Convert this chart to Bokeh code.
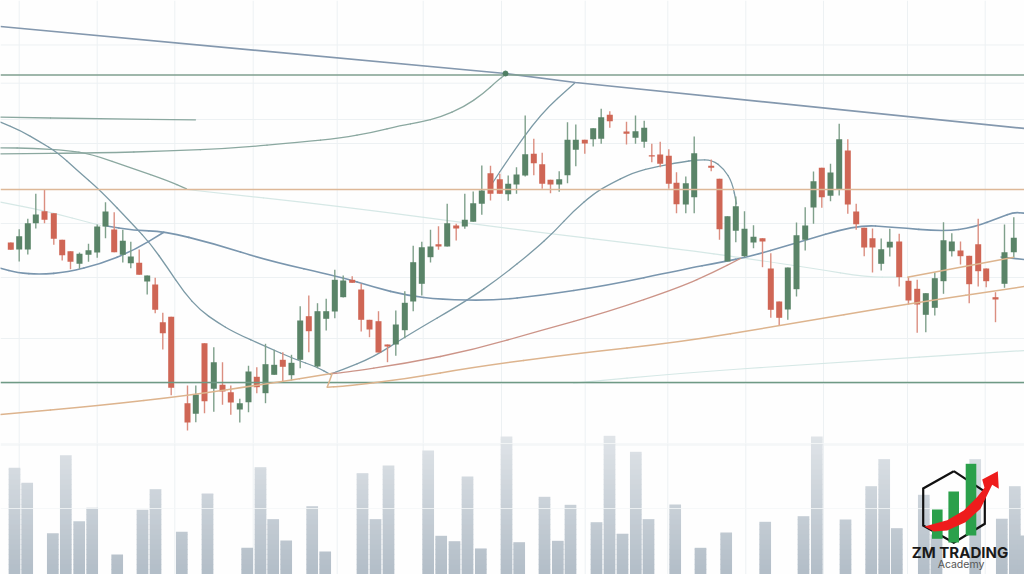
from bokeh.plotting import figure
from bokeh.models import Range1d
from bokeh.core.properties import value
from bokeh.embed import file_html
from bokeh.resources import INLINE

# Candles: session position and prices
session = [10.3,18.7,27.3,35.3,44,53.3,61.7,70,79,88,96.7,105,113.7,122.3,130.3,138.7,146.7,154.7,162.3,170.7,
           187,195.3,204,213.3,222,230.3,239.3,248,256.3,265,273.7,282.3,291,299.7,308.3,317,325.7,334.3,342.7,351.7,
           360.7,369,378,387,395.3,404.3,412.7,421.3,430,438,446.7,455.7,464.3,472.7,481.3,490,499.3,507.7,516,524.7,
           533.3,541.7,550,558.7,567,575.3,584.3,592.7,600.7,609.3,626,635,643.7,651.3,659.7,668.3,676,685.3,693.7,
           710.7,719,727,735.3,744,753,762,770.3,778.7,787.3,796,804.7,813,821.3,830,838.7,847.3,855.7,863.7,872,880.7,
           889.3,898.7,908,916.7,925.3,934.3,943,951.3,960,968.7,977.7,985.7,995,1004,1013.3]
opens = [332,325,325,351.3,363.3,361.3,334.7,323.3,310.7,319.7,322,348,345,319.7,311.3,311.7,293,290,252.3,257.7,
         171.3,160.7,231.3,185.7,189.7,182.3,165,172.3,197.7,181.3,199.7,214.7,199.3,214.7,258.3,208,255.7,263,277.3,294.7,
         285,254.7,253.3,230,230,244.3,273,290.7,317.3,330.3,328,349,348,352.7,370.7,401.3,395.3,380.3,390,399,
         420.7,410.3,394.7,390,399.3,424.7,434.7,435.3,435.7,459.7,443,436.7,432.7,419.3,420,418.7,391.7,370,377.3,
         408.7,395.7,313,343.7,318.3,332,336.3,306,273,265,285.3,334.7,367,406.7,378.7,385.3,424,363,346.7,336.3,310.7,
         327,333,293.7,285.7,259.7,266.7,293.3,323.3,324,318.7,330.3,306,277.3,290.7,322.3]
closes = [324.7,338.3,351.3,360,354.7,335.7,319.3,312.7,320.7,324.3,348,363,322.3,333.7,318,299.7,299,264.7,241.3,186.7,
          152,180,173.3,212.3,183,172,171.3,203,187.3,210.3,209.7,207.7,211.7,254,243.3,263.3,263.3,294.7,294,291.7,
          254.7,245,222,228,250,271.7,312.3,327.3,328,328,351.3,346,354.7,371.3,384,380.7,380.7,390.7,400,420.3,
          411.3,390.7,390,395.3,434.7,434.7,431,446.3,457.3,453.3,440.7,443.3,446.7,418,410.7,390.7,370.3,391.3,421.3,
          406.7,345.3,358.3,368.3,345.7,337.7,333,264.7,256.7,307,339.3,349,393.3,377.3,402,435.3,370,350.3,327,327,325.3,
          332.7,297.3,274,270,281.3,296.3,334.3,333,318.3,290.3,303.3,293.3,275,322.3,336.7]
highs = [332,345.3,355.7,380.7,384.7,361.3,334.7,323.3,322,330.7,350,372.3,362.3,344.7,332.7,325,299,296.7,261.7,257.7,
         189,189,231.3,227.3,212.3,189,175.7,208.7,207.3,230.7,224.7,222.3,219.7,268.3,279,271.3,275.7,304.7,299,298.3,
         290.7,254.7,263.3,230,264,283.3,328.7,332.7,344.7,348.3,370.7,350.7,380.7,383,409,408.7,400.7,399,407.3,459,
         435.7,421.7,394.7,403.3,452.3,450,434.7,446.3,465.7,463.3,452.7,459,453.7,430.7,432.7,425.3,402.3,398,438,
         415,395.7,358.3,378,363.3,349.3,336.3,321.3,273,307,352,367.3,403,406.7,410.7,450.7,435.3,370.7,346.7,346,336,
         345.7,340.7,297.3,294.7,281.3,302.3,352.3,341.3,333,318.7,355.7,306,282.3,350,357.3]
lows = [324.7,313,320,346,351.3,329.7,314,305.3,305.7,312.7,316.7,336.3,322.3,312,306.3,299.7,280,261.3,225,179.3,
        144,152.3,161.3,162.7,169.7,159.7,152,162.3,181.3,171.3,199.7,192.3,194,206.3,222.3,206.3,244,256.3,277,291.7,
        243,237.3,222,212.3,218.7,236.3,263.3,279,312,324.7,328,334,345.7,352.7,359.7,374,380.7,373.7,380.7,398,
        399.3,385.7,381.3,382.7,391.3,408.3,420.7,428,430.7,446.7,430,430.7,426.7,412.3,407.3,385.7,361.3,361.3,361.3,
        403.3,334.7,313,332.3,317.3,326.3,307.3,256.7,248.7,254.7,278,324,350.7,366.7,373.3,379,360.7,344.7,318.3,302,304,
        318,288,270,241.7,242.3,259,280.7,318,310,271.3,288,287.3,252.3,286.7,316.7]

# Volume bars
vol_session = [14,26.7,52.3,65.3,78.7,91.7,116.7,142,155,181.3,207,246.7,260,272.7,285.7,311.7,324.7,362,375,388,
               427.7,440.7,454,467,480.3,506,518.7,544,557.3,570,596,609,622,635.3,648,674.7,700,725.7,764.7,803,816.3,
               845,870.7,883.7,896.3,923.3,936,974.7,1001.3,1014.3,1023]
volumes = [106.7,91.7,41.3,119.3,53.3,66.7,20,64.7,85.3,42.7,81,26.7,107.3,55.3,34,68.3,23,101.3,55.3,109,
           124,38.7,33.3,98,26,138,32.3,77.7,33.7,69.7,52.3,138.7,40.7,122.7,55.3,70,26.7,42,52.7,58.3,138,
           55,88.3,115.3,46.3,79.7,40,115.3,55.7,88.3,39]

# Levels and curves (x position, price)
trend_x = [0,505,575,1024];  trend_y = [548,501,492,446]
upper_level = [499.5];  mid_level = [385];  lower_level = [192]
curve_a_x = [0,100,166.7,233,300,340,373,400,420,440,463,483,497,505]
curve_a_y = [420.7,421.7,423.3,426.3,432.3,436.3,442.3,449,452.3,457.3,467.3,481,494,500]
curve_b_x = [0,100,195];  curve_b_y = [457.3,455.7,454.7]
curve_c_x = [0,33.3,66.7,90,133.3,166.7,186];  curve_c_y = [426.7,426.3,424,420.7,405.7,394,385.7]
curve_d_x = [0,20,40,56.7,76.7,100,133.3,150,166.7,183.3,200,216.7,233.3,266.7,293.3,316.7,330]
curve_d_y = [452.3,444,432.3,422.3,404,384,349,330.7,307.3,282.3,264,252.3,242.3,227.3,215.7,207.3,200]
curve_e_x = [331,340,373,406.7,466.7,500,533.3,553.3,573.3,593.3,606.7,633.3,656.7,680,696.7,711.7,723.3,731.7,736]
curve_e_y = [201,204,217.3,239,274,297.3,324,342.3,364,380.7,389,402.3,408,412.3,414.7,414.7,405.7,392.3,370.7]
curve_f_x = [0,16.7,40,66.7,100,133.3,163.3];  curve_f_y = [306.3,301.7,300,302.3,310.7,324,342.3]
curve_g_x = [103.3,133.3,163.3,213.3,266.7,340,373.3,406.7,440,493.3,540,606.7,680,723.3,746.7,793.3,856.7,893.3,943.3,973.3,1000,1013.3,1024]
curve_g_y = [349,344,343.3,331,314,297.5,287.3,279,275,274,279,289,304.5,313,317.3,330.7,349.7,347.3,343,347,357.3,362.3,361.3]
curve_h_x = [491.7,506.7,540,574];  curve_h_y = [391,414,460.7,491.3]
curve_i_x = [1000,1024];  curve_i_y = [317.5,315]
tan_a_x = [0,100,186.7,266.7,331];  tan_a_y = [160,169,179,190.7,201]
hook_x = [331.7,326.7];  hook_y = [201,187.3]
tan_b_x = [326.7,340,406.7,473,573,680,780,906.7,1024];  tan_b_y = [187.3,188,195.7,207.3,220.7,232.3,249,270.7,288]
tan_c_x = [906.7,1013.3];  tan_c_y = [297.3,317.3]
red_x = [331,340,406.7,473,540,606.7,680,713,740];  red_y = [201,201.5,211.3,224.7,244,262.3,287.3,302.3,316]
pale_a_x = [186,340,506.7,680,746.7,813.3,866.7,896.7];  pale_a_y = [385,368.3,346,325.3,316,306,297.3,297.3]
pale_b_x = [0,43.3,100];  pale_b_y = [372.3,364,349]
pale_c_x = [573,680,813.3,1024];  pale_c_y = [191.3,201.3,210.7,224]
pivot_x = [505];  pivot_y = [501]

grid_x = [18.7,96.7,174.3,252.7,336.7,422.7,501,584.7,667.3,745.3,823,907,984.7]
grid_y = [129.5,191,236,297,351,431,455,491.3,529.5]

# Academy logo
brand = "ZM TRADING"
brand_sub = "Academy"
hex_x = [953.3,984.3,984.3,953.3,922.7,922.7,953.3]
hex_y = [103.3,83,50.7,31.7,49,86,103.3]
logo_bar_x = [936.8,953.2,970.5];  logo_bar_top = [65,83,110.7];  logo_bar_bottom = [35.7,32,39]
arrow_x = [924,946.7,963.3,976.7,984,981.7,997.3,998.3,991.7,980,965,946.7,933.3]
arrow_y = [48,54.3,64,77.5,86.7,95,103.3,85.7,89.7,65.7,52.3,44,43]

p = figure(width=1024, height=574, x_range=Range1d(0, 1024), y_range=Range1d(0, 574),
           output_backend="svg", toolbar_location=None, min_border=0,
           x_axis_location=None, y_axis_location=None,
           background_fill_color="#FEFEFE", border_fill_color="#FEFEFE", outline_line_color=None)
p.grid.visible = False


def smooth(xs, ys, color, width):
    """Draw through Bokeh's quadratic glyph, with the read points as control points."""
    if len(xs) < 3:
        p.line(xs, ys, line_color=color, line_width=width)
        return
    mx = [(a + b) / 2 for a, b in zip(xs, xs[1:])]
    my = [(a + b) / 2 for a, b in zip(ys, ys[1:])]
    p.line([xs[0], mx[0]], [ys[0], my[0]], line_color=color, line_width=width, line_cap="round")
    p.line([mx[-1], xs[-1]], [my[-1], ys[-1]], line_color=color, line_width=width, line_cap="round")
    p.quadratic(x0=mx[:-1], y0=my[:-1], x1=mx[1:], y1=my[1:], cx=xs[1:-1], cy=ys[1:-1],
                line_color=color, line_width=width, line_cap="round")


GRID = "#EDF1F3"
p.segment(x0=grid_x, x1=grid_x, y0=0, y1=574, line_color=GRID, line_width=1)
p.segment(x0=0, x1=1024, y0=grid_y, y1=grid_y, line_color=GRID, line_width=1)

# Volume bars with a vertical gradient built from bands
STEP = 5
for lo in range(0, 140, STEP):
    t = lo / 140
    col = "#%02X%02X%02X" % (int(0xB3 + t * (0xE2 - 0xB3)), int(0xBE + t * (0xE6 - 0xBE)), int(0xC8 + t * (0xEA - 0xC8)))
    xs = [x for x, v in zip(vol_session, volumes) if v > lo]
    tops = [min(v, lo + STEP + 0.6) for v in volumes if v > lo]
    if xs:
        p.vbar(x=xs, width=11.7, bottom=lo, top=tops, fill_color=col, line_color=None)
p.segment(x0=0, x1=1024, y0=[66, 131], y1=[66, 131], line_color="#F4F6F8", line_width=1, line_alpha=0.8)

# Curves beneath the candles
PALE = "#D6E8E6"
for xs, ys in [(pale_a_x, pale_a_y), (pale_b_x, pale_b_y), (pale_c_x, pale_c_y)]:
    smooth(xs, ys, PALE, 1.2)
for xs, ys in [(curve_a_x, curve_a_y), (curve_b_x, curve_b_y), (curve_c_x, curve_c_y)]:
    smooth(xs, ys, "#8BA8A0", 1.3)
for xs, ys in [(curve_d_x, curve_d_y), (curve_e_x, curve_e_y), (curve_h_x, curve_h_y)]:
    smooth(xs, ys, "#7C9AA6", 1.3)
for xs, ys in [(curve_f_x, curve_f_y), (curve_g_x, curve_g_y), (curve_i_x, curve_i_y)]:
    smooth(xs, ys, "#7A96AE", 1.6)
p.line(trend_x, trend_y, line_color="#8498AE", line_width=1.7)
smooth(red_x, red_y, "#CC9488", 1.3)

# Candles
GREEN_BODY, GREEN_WICK = "#5A8468", "#7FA08B"
RED_BODY, RED_WICK = "#CF6655", "#DB8E80"
up = [c >= o for o, c in zip(opens, closes)]
wick_col = [GREEN_WICK if u else RED_WICK for u in up]
body_col = [GREEN_BODY if u else RED_BODY for u in up]
p.segment(x0=session, x1=session, y0=lows, y1=highs, line_color=wick_col, line_width=1.4)
p.vbar(x=session, width=6, bottom=opens, top=closes, fill_color=body_col, line_color=None)

# Levels and tan curves above the candles
for lvl, col, w in [(upper_level, "#7F9F8F", 1.5), (mid_level, "#DDB898", 1.7), (lower_level, "#6F9A85", 1.5)]:
    p.line([0, 1024], [lvl[0], lvl[0]], line_color=col, line_width=w)
for xs, ys in [(tan_a_x, tan_a_y), (hook_x, hook_y), (tan_b_x, tan_b_y), (tan_c_x, tan_c_y)]:
    smooth(xs, ys, "#DDB48E", 1.5)
p.scatter(pivot_x, pivot_y, size=5, color="#4F7F63")

# Logo
p.line(hex_x, hex_y, line_color="#111111", line_width=2.2, line_join="miter")
p.vbar(x=logo_bar_x, width=10.6, bottom=logo_bar_bottom, top=logo_bar_top, fill_color="#2BA04B", line_color=None)
p.patch(arrow_x, arrow_y, fill_color="#EE1C1C", line_color=None)
p.text(x=[959.5], y=[22.5], text=[brand], text_font=value("Inter"), text_font_style="bold", text_font_size="15px",
       text_color="#1A1A1A", text_align="center", text_baseline="alphabetic")
p.text(x=[960.5], y=[10.5], text=[brand_sub], text_font=value("Inter"), text_font_size="10.5px",
       text_color="#555555", text_align="center", text_baseline="alphabetic")

open("out.html", "w").write(file_html(p, INLINE))
